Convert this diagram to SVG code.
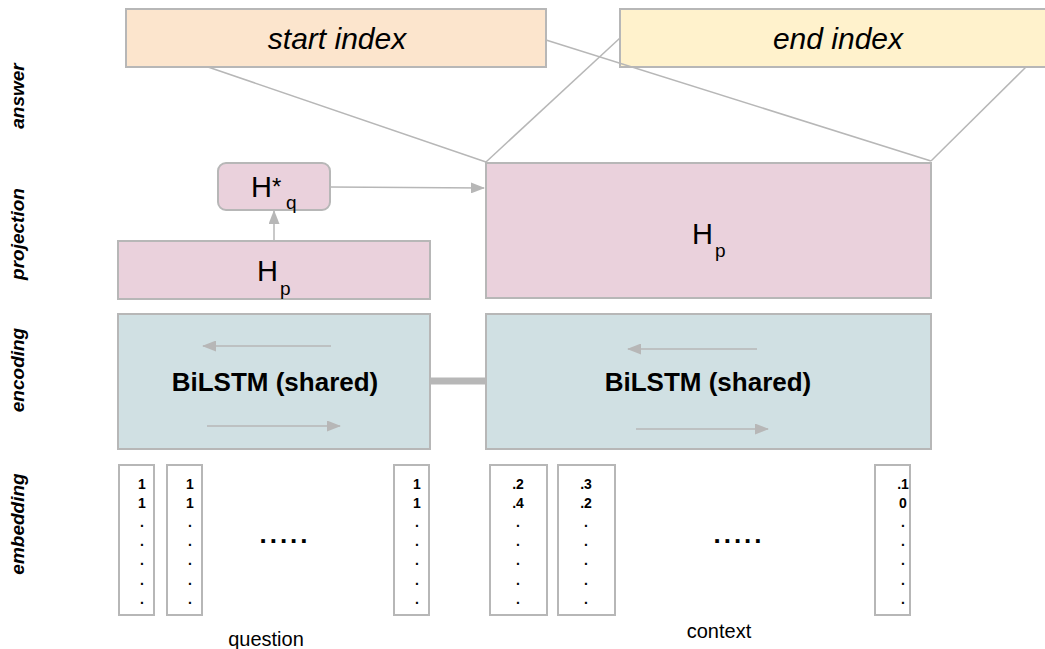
<svg xmlns="http://www.w3.org/2000/svg" width="1045" height="649" viewBox="0 0 1045 649">
<style>
.box{stroke:#b7b7b7;stroke-width:2}
.ans1{fill:#fce5cd}
.ans2{fill:#fff2cc}
.proj{fill:#ead1dc}
.enc{fill:#d0e0e3}
.emb{fill:#ffffff}
.conn{stroke:#b7b7b7;stroke-width:1.5;fill:none}
.side{font-family:"Liberation Sans",Arial,sans-serif;font-size:19px;font-weight:bold;font-style:italic;fill:#000}
.big{font-family:"Liberation Sans",Arial,sans-serif;font-size:30px;font-style:italic;fill:#000}
.h{font-family:"Liberation Sans",Arial,sans-serif;font-size:29px;fill:#000}
.sub{font-family:"Liberation Sans",Arial,sans-serif;font-size:19px;fill:#000}
.bl{font-family:"Liberation Sans",Arial,sans-serif;font-size:26px;font-weight:bold;fill:#000}
.num{font-family:"Liberation Sans",Arial,sans-serif;font-size:14px;font-weight:bold;fill:#000}
.dots{font-family:"Liberation Sans",Arial,sans-serif;font-size:26px;font-weight:bold;fill:#000;letter-spacing:3px}
.lab{font-family:"Liberation Sans",Arial,sans-serif;font-size:20px;fill:#000}
</style>
<defs>
<marker id="ah" viewBox="0 0 14 11" refX="13" refY="5.5" markerWidth="14" markerHeight="11" markerUnits="userSpaceOnUse" orient="auto">
<path d="M0,0 L14,5.5 L0,11 z" fill="#b7b7b7"/>
</marker>
</defs>
<rect width="1045" height="649" fill="#ffffff"/>

<g id="side-labels">
<text class="side" transform="translate(24,96) rotate(-90)" text-anchor="middle">answer</text>
<text class="side" transform="translate(24,234) rotate(-90)" text-anchor="middle">projection</text>
<text class="side" transform="translate(24,370) rotate(-90)" text-anchor="middle">encoding</text>
<text class="side" transform="translate(24,524) rotate(-90)" text-anchor="middle">embedding</text>
</g>

<g id="start-index">
<rect class="box ans1" x="126" y="9" width="420" height="58"/>
<text class="big" x="337" y="49" text-anchor="middle">start index</text>
</g>
<g id="end-index">
<rect class="box ans2" x="620" y="9" width="430" height="58"/>
<text class="big" x="838" y="49" text-anchor="middle">end index</text>
</g>

<g id="hq-star">
<rect class="box proj" x="218" y="163" width="112" height="47" rx="8"/>
<text class="h" x="251" y="197">H<tspan dy="-2" font-size="24">*</tspan></text>
<text class="sub" x="286" y="209">q</text>
</g>

<g id="hp-question">
<rect class="box proj" x="118" y="241" width="312" height="58"/>
<text class="h" x="257" y="281">H</text>
<text class="sub" x="280" y="295">p</text>
</g>

<g id="hp-context">
<rect class="box proj" x="486" y="163" width="445" height="135"/>
<text class="h" x="692" y="244">H</text>
<text class="sub" x="715" y="257">p</text>
</g>

<g id="bilstm-question">
<rect class="box enc" x="118" y="314" width="312" height="135"/>
<text class="bl" x="275" y="391" text-anchor="middle">BiLSTM (shared)</text>
<line class="conn" x1="331" y1="346" x2="203" y2="346" marker-end="url(#ah)"/>
<line class="conn" x1="207" y1="426" x2="340" y2="426" marker-end="url(#ah)"/>
</g>

<g id="bilstm-context">
<rect class="box enc" x="486" y="314" width="445" height="135"/>
<text class="bl" x="708" y="391" text-anchor="middle">BiLSTM (shared)</text>
<line class="conn" x1="757" y1="349" x2="628" y2="349" marker-end="url(#ah)"/>
<line class="conn" x1="636" y1="429" x2="768" y2="429" marker-end="url(#ah)"/>
</g>

<g id="emb-q1">
<rect class="box emb" x="119" y="465" width="35" height="150"/>
<text class="num" text-anchor="middle"><tspan x="142" y="489">1</tspan><tspan x="142" y="508">1</tspan><tspan x="142" y="527">.</tspan><tspan x="142" y="546">.</tspan><tspan x="142" y="565">.</tspan><tspan x="142" y="585">.</tspan><tspan x="142" y="604">.</tspan></text>
</g>
<g id="emb-q2">
<rect class="box emb" x="167" y="465" width="35" height="150"/>
<text class="num" text-anchor="middle"><tspan x="190" y="489">1</tspan><tspan x="190" y="508">1</tspan><tspan x="190" y="527">.</tspan><tspan x="190" y="546">.</tspan><tspan x="190" y="565">.</tspan><tspan x="190" y="585">.</tspan><tspan x="190" y="604">.</tspan></text>
</g>
<g id="emb-q-ellipsis">
<text class="dots" x="285" y="543" text-anchor="middle">.....</text>
</g>
<g id="emb-q3">
<rect class="box emb" x="394" y="465" width="35" height="150"/>
<text class="num" text-anchor="middle"><tspan x="417" y="489">1</tspan><tspan x="417" y="508">1</tspan><tspan x="417" y="527">.</tspan><tspan x="417" y="546">.</tspan><tspan x="417" y="565">.</tspan><tspan x="417" y="585">.</tspan><tspan x="417" y="604">.</tspan></text>
</g>
<g id="emb-c1">
<rect class="box emb" x="490" y="465" width="57" height="150"/>
<text class="num" text-anchor="middle"><tspan x="518" y="489">.2</tspan><tspan x="518" y="508">.4</tspan><tspan x="518" y="527">.</tspan><tspan x="518" y="546">.</tspan><tspan x="518" y="565">.</tspan><tspan x="518" y="585">.</tspan><tspan x="518" y="604">.</tspan></text>
</g>
<g id="emb-c2">
<rect class="box emb" x="558" y="465" width="57" height="150"/>
<text class="num" text-anchor="middle"><tspan x="586" y="489">.3</tspan><tspan x="586" y="508">.2</tspan><tspan x="586" y="527">.</tspan><tspan x="586" y="546">.</tspan><tspan x="586" y="565">.</tspan><tspan x="586" y="585">.</tspan><tspan x="586" y="604">.</tspan></text>
</g>
<g id="emb-c-ellipsis">
<text class="dots" x="739" y="543" text-anchor="middle">.....</text>
</g>
<g id="emb-c3">
<rect class="box emb" x="875" y="465" width="35" height="150"/>
<text class="num" text-anchor="middle"><tspan x="903" y="489">.1</tspan><tspan x="903" y="508">0</tspan><tspan x="903" y="527">.</tspan><tspan x="903" y="546">.</tspan><tspan x="903" y="565">.</tspan><tspan x="903" y="585">.</tspan><tspan x="903" y="604">.</tspan></text>
</g>

<g id="labels">
<text class="lab" x="266" y="646" text-anchor="middle">question</text>
<text class="lab" x="719" y="638" text-anchor="middle">context</text>
</g>

<g id="connectors">
<line class="conn" x1="208" y1="67" x2="486" y2="162"/>
<line class="conn" x1="546" y1="40" x2="931" y2="161"/>
<line class="conn" x1="620" y1="38" x2="486" y2="162"/>
<line class="conn" x1="1026" y1="67" x2="931" y2="161"/>
<line class="conn" x1="330" y1="187" x2="484" y2="188" marker-end="url(#ah)"/>
<line class="conn" x1="274" y1="241" x2="274" y2="211" marker-end="url(#ah)"/>
<line x1="430" y1="381" x2="486" y2="381" stroke="#b7b7b7" stroke-width="7"/>
</g>
</svg>
